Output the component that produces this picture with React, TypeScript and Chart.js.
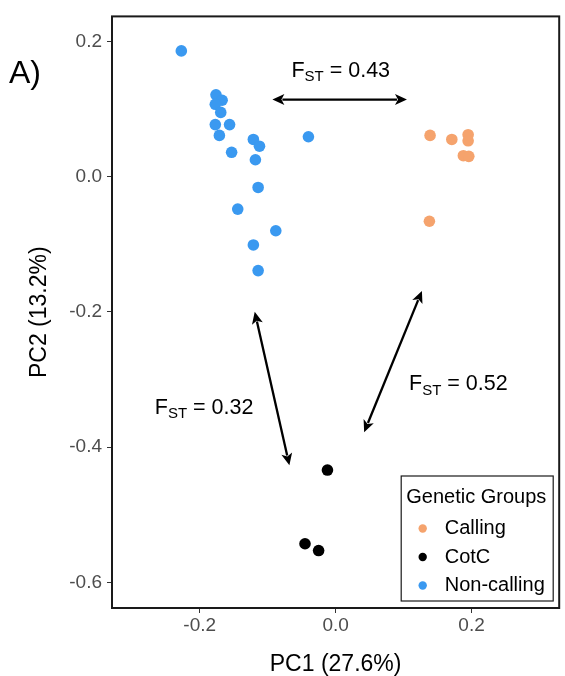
import { useEffect, useRef } from "react";
import { Chart, registerables } from "chart.js";

Chart.register(...registerables);

// ---- data ----
const GROUPS = ["Calling", "CotC", "Non-calling"];
const GROUP_COLORS = ["#f5a36d", "#000000", "#3a99f0"];

const CALLING_PC1 = [0.139, 0.171, 0.195, 0.195, 0.188, 0.196, 0.138];
const CALLING_PC2 = [0.061, 0.055, 0.062, 0.053, 0.031, 0.03, -0.066];

const COTC_PC1 = [-0.012, -0.045, -0.025];
const COTC_PC2 = [-0.434, -0.543, -0.553];

const NONCALLING_PC1 = [
  -0.227, -0.176, -0.167, -0.177, -0.169, -0.177, -0.156, -0.171, -0.121,
  -0.112, -0.153, -0.118, -0.04, -0.114, -0.144, -0.088, -0.121, -0.114,
];
const NONCALLING_PC2 = [
  0.186, 0.121, 0.113, 0.107, 0.095, 0.077, 0.077, 0.061, 0.055, 0.045, 0.036,
  0.025, 0.059, -0.016, -0.048, -0.08, -0.101, -0.139,
];

const X_TICKS = [-0.2, 0.0, 0.2];
const Y_TICKS = [0.2, 0.0, -0.2, -0.4, -0.6];
const X_MIN = -0.329;
const X_MAX = 0.329;
const Y_MIN = -0.638;
const Y_MAX = 0.237;

const X_TITLE = "PC1 (27.6%)";
const Y_TITLE = "PC2 (13.2%)";
const PANEL_LABEL = "A)";
const LEGEND_TITLE = "Genetic Groups";

// FST annotations: value, arrow endpoints (data units), label anchor (data units)
const FST_VALUES = ["0.43", "0.32", "0.52"];
const FST_ARROW_FROM = [
  [-0.093, 0.114],
  [-0.119, -0.2],
  [0.127, -0.169],
];
const FST_ARROW_TO = [
  [0.105, 0.114],
  [-0.068, -0.427],
  [0.042, -0.378],
];
const FST_LABEL_AT = [
  [-0.065, 0.148],
  [-0.266, -0.351],
  [0.108, -0.316],
];

const FONT = "'Liberation Sans', Arial, sans-serif";

function toPoints(xs: number[], ys: number[]) {
  return xs.map((x, i) => ({ x, y: ys[i] }));
}

function drawArrow(
  ctx: CanvasRenderingContext2D,
  x1: number,
  y1: number,
  x2: number,
  y2: number
) {
  const head = 12;
  const half = 5.5;
  const dx = x2 - x1;
  const dy = y2 - y1;
  const len = Math.hypot(dx, dy);
  const ux = dx / len;
  const uy = dy / len;
  const px = -uy;
  const py = ux;
  ctx.save();
  ctx.strokeStyle = "#000";
  ctx.fillStyle = "#000";
  ctx.lineWidth = 2.3;
  ctx.beginPath();
  ctx.moveTo(x1 + ux * (head - 2), y1 + uy * (head - 2));
  ctx.lineTo(x2 - ux * (head - 2), y2 - uy * (head - 2));
  ctx.stroke();
  const tri = (tx: number, ty: number, dirx: number, diry: number) => {
    ctx.beginPath();
    ctx.moveTo(tx, ty);
    ctx.lineTo(tx - dirx * head + px * half, ty - diry * head + py * half);
    ctx.lineTo(tx - dirx * (head - 3), ty - diry * (head - 3));
    ctx.lineTo(tx - dirx * head - px * half, ty - diry * head - py * half);
    ctx.closePath();
    ctx.fill();
  };
  tri(x2, y2, ux, uy);
  tri(x1, y1, -ux, -uy);
  ctx.restore();
}

const overlayPlugin = {
  id: "overlay",
  afterDatasetsDraw(chart: any) {
    const ctx: CanvasRenderingContext2D = chart.ctx;
    const { left, right, top, bottom } = chart.chartArea;
    const xs = chart.scales.x;
    const ys = chart.scales.y;

    // panel border
    ctx.save();
    ctx.strokeStyle = "#1a1a1a";
    ctx.lineWidth = 2;
    ctx.strokeRect(left, top, right - left, bottom - top);
    ctx.restore();

    // arrows and F_ST labels
    FST_VALUES.forEach((v, i) => {
      drawArrow(
        ctx,
        xs.getPixelForValue(FST_ARROW_FROM[i][0]),
        ys.getPixelForValue(FST_ARROW_FROM[i][1]),
        xs.getPixelForValue(FST_ARROW_TO[i][0]),
        ys.getPixelForValue(FST_ARROW_TO[i][1])
      );
      let x = xs.getPixelForValue(FST_LABEL_AT[i][0]);
      const y = ys.getPixelForValue(FST_LABEL_AT[i][1]);
      ctx.save();
      ctx.fillStyle = "#000";
      ctx.textBaseline = "alphabetic";
      ctx.textAlign = "left";
      ctx.font = `21.5px ${FONT}`;
      ctx.fillText("F", x, y);
      x += ctx.measureText("F").width;
      ctx.font = `15px ${FONT}`;
      ctx.fillText("ST", x, y + 4.5);
      x += ctx.measureText("ST").width;
      ctx.font = `21.5px ${FONT}`;
      ctx.fillText(" = " + v, x, y);
      ctx.restore();
    });

    // legend
    const boxRight = right - 6;
    const boxBottom = bottom - 7;
    const boxW = 152;
    const boxH = 125;
    const bx = boxRight - boxW;
    const by = boxBottom - boxH;
    ctx.save();
    ctx.fillStyle = "#fff";
    ctx.fillRect(bx, by, boxW, boxH);
    ctx.strokeStyle = "#1a1a1a";
    ctx.lineWidth = 1.2;
    ctx.strokeRect(bx, by, boxW, boxH);
    ctx.fillStyle = "#000";
    ctx.textBaseline = "middle";
    ctx.textAlign = "left";
    ctx.font = `20px ${FONT}`;
    ctx.fillText(LEGEND_TITLE, bx + 5, by + 21);
    chart.data.datasets.forEach((ds: any, i: number) => {
      const cy = by + 52.5 + i * 28.5;
      ctx.beginPath();
      ctx.fillStyle = ds.backgroundColor;
      ctx.arc(bx + 21.5, cy, 4.2, 0, Math.PI * 2);
      ctx.fill();
      ctx.fillStyle = "#000";
      ctx.font = `20px ${FONT}`;
      ctx.fillText(ds.label, bx + 43.5, cy);
    });
    ctx.restore();

    // panel label
    ctx.save();
    ctx.fillStyle = "#000";
    ctx.textBaseline = "alphabetic";
    ctx.textAlign = "left";
    ctx.font = `32px ${FONT}`;
    ctx.fillText(PANEL_LABEL, 9, 83);
    ctx.restore();
  },
};

export default function App() {
  const canvasRef = useRef<HTMLCanvasElement | null>(null);

  useEffect(() => {
    const canvas = canvasRef.current;
    if (!canvas) return;
    const series = [
      toPoints(CALLING_PC1, CALLING_PC2),
      toPoints(COTC_PC1, COTC_PC2),
      toPoints(NONCALLING_PC1, NONCALLING_PC2),
    ];
    const chart = new Chart(canvas, {
      type: "scatter",
      data: {
        datasets: GROUPS.map((g, i) => ({
          label: g,
          data: series[i],
          backgroundColor: GROUP_COLORS[i],
          borderWidth: 0,
          pointRadius: 5.8,
          pointHoverRadius: 5.8,
        })),
      },
      options: {
        animation: false,
        responsive: false,
        devicePixelRatio: 1,
        layout: { padding: { top: 8, right: 4, left: 0, bottom: 0 } },
        plugins: {
          legend: { display: false },
          tooltip: { enabled: false },
        },
        scales: {
          x: {
            type: "linear",
            min: X_MIN,
            max: X_MAX,
            afterFit: (s: any) => {
              s.height = 68;
            },
            afterBuildTicks: (s: any) => {
              s.ticks = X_TICKS.map((v) => ({ value: v }));
            },
            ticks: {
              callback: (v: any) => Number(v).toFixed(1),
              color: "#4d4d4d",
              font: { family: FONT, size: 19 },
              padding: 1,
              maxRotation: 0,
            },
            grid: {
              drawOnChartArea: false,
              drawTicks: true,
              tickLength: 5,
              color: "#333",
            },
            border: { display: false },
            title: {
              display: true,
              text: X_TITLE,
              color: "#000",
              font: { family: FONT, size: 23, lineHeight: 1 },
              padding: { top: 0, bottom: 0 },
            },
          },
          y: {
            type: "linear",
            min: Y_MIN,
            max: Y_MAX,
            afterFit: (s: any) => {
              s.width = 112;
            },
            afterBuildTicks: (s: any) => {
              s.ticks = Y_TICKS.map((v) => ({ value: v }));
            },
            ticks: {
              callback: (v: any) => Number(v).toFixed(1),
              color: "#4d4d4d",
              font: { family: FONT, size: 19 },
              padding: 5,
            },
            grid: {
              drawOnChartArea: false,
              drawTicks: true,
              tickLength: 5,
              color: "#333",
            },
            border: { display: false },
            title: {
              display: true,
              text: Y_TITLE,
              color: "#000",
              font: { family: FONT, size: 23, lineHeight: 1 },
              padding: { top: 28, bottom: 0 },
            },
          },
        },
      },
      plugins: [overlayPlugin],
    });
    return () => chart.destroy();
  }, []);

  return (
    <div
      style={{
        position: "fixed",
        left: 0,
        top: 0,
        width: 565,
        height: 676,
        background: "#fff",
      }}
    >
      <canvas ref={canvasRef} width={565} height={676} />
    </div>
  );
}
